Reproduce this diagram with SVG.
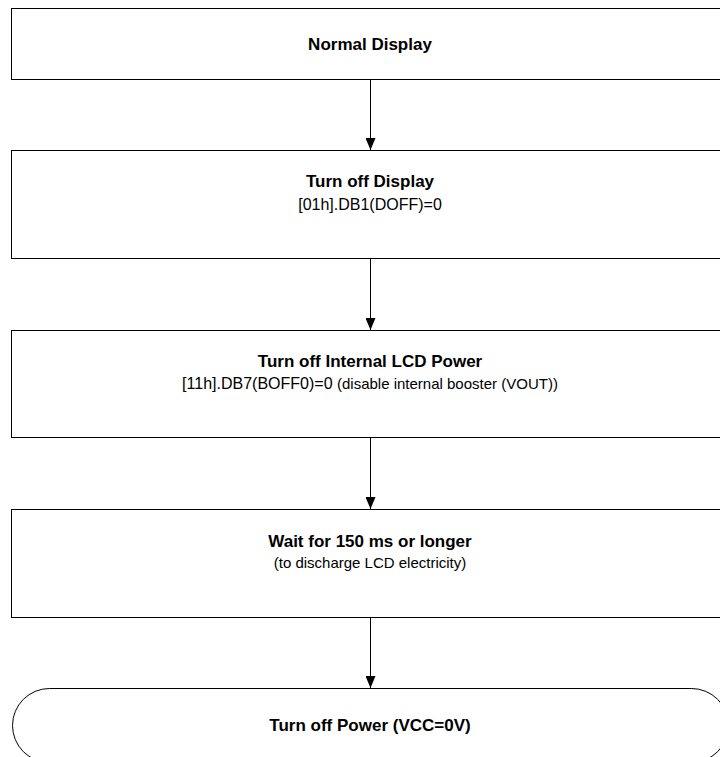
<svg xmlns="http://www.w3.org/2000/svg" width="720" height="757" viewBox="0 0 720 757">
<style>
.box{fill:#fff;stroke:#000;stroke-width:1}
.t{font-family:"Liberation Sans",Arial,sans-serif;font-size:17px;font-weight:bold;text-anchor:middle;fill:#000}
.s{font-family:"Liberation Sans",Arial,sans-serif;font-size:16px;text-anchor:middle;fill:#000}
.p{font-size:15px}
.c{stroke:#000;stroke-width:1;fill:none;marker-end:url(#ah)}
</style>
<defs>
<marker id="ah" markerWidth="12" markerHeight="10" refX="12" refY="5" orient="auto" markerUnits="userSpaceOnUse" viewBox="0 0 12 10">
<path d="M0,0 L12,5 L0,10 Z" fill="#000"/>
</marker>
</defs>
<g id="connectors">
<line class="c" x1="370.5" y1="79.5" x2="370.5" y2="150"/>
<line class="c" x1="370.5" y1="258.5" x2="370.5" y2="330"/>
<line class="c" x1="370.5" y1="437.5" x2="370.5" y2="509"/>
<line class="c" x1="370.5" y1="617.5" x2="370.5" y2="688"/>
</g>
<g id="n1">
<rect class="box" x="11.5" y="8.5" width="720" height="71"/>
<text class="t" x="370" y="50">Normal Display</text>
</g>
<g id="n2">
<rect class="box" x="11.5" y="150.5" width="720" height="108"/>
<text class="t" x="370" y="187">Turn off Display</text>
<text class="s" x="370" y="210">[01h].DB1(DOFF)=0</text>
</g>
<g id="n3">
<rect class="box" x="11.5" y="330.5" width="720" height="107"/>
<text class="t" x="370" y="367">Turn off Internal LCD Power</text>
<text class="s" x="370" y="389">[11h].DB7(BOFF0)=0 <tspan class="p">(disable internal booster (VOUT))</tspan></text>
</g>
<g id="n4">
<rect class="box" x="11.5" y="509.5" width="720" height="108"/>
<text class="t" x="370" y="547">Wait for 150 ms or longer</text>
<text class="s" x="370" y="568"><tspan class="p">(to discharge LCD electricity)</tspan></text>
</g>
<g id="n5">
<rect class="box" x="12.5" y="688.5" width="716" height="74" rx="37" ry="37"/>
<text class="t" x="370" y="731">Turn off Power (VCC=0V)</text>
</g>
</svg>
